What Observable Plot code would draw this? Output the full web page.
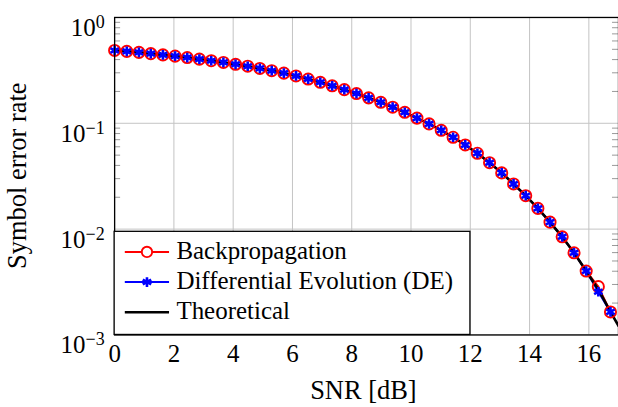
<!DOCTYPE html>
<html><head><meta charset="utf-8">
<script src="https://cdn.jsdelivr.net/npm/d3@7"></script>
<script src="https://cdn.jsdelivr.net/npm/@observablehq/plot@0.6"></script>
<style>
html,body{margin:0;padding:0;background:#fff;overflow:hidden;width:618px;height:407px}
#wrap{position:relative;width:618px;height:407px;overflow:hidden}
</style></head><body><div id="wrap"></div>
<script>
const snr = [0, 0.41, 0.82, 1.22, 1.63, 2.04, 2.45, 2.86, 3.26, 3.67, 4.08, 4.49, 4.9, 5.3, 5.71, 6.12, 6.53, 6.94, 7.34, 7.75, 8.16, 8.57, 8.98, 9.38, 9.79, 10.2, 10.61, 11.02, 11.42, 11.83, 12.24, 12.65, 13.06, 13.46, 13.87, 14.28, 14.69, 15.1, 15.5, 15.91, 16.32, 16.73];
const serBP = [0.488, 0.478, 0.468, 0.455, 0.443, 0.431, 0.418, 0.404, 0.390, 0.376, 0.361, 0.346, 0.330, 0.314, 0.298, 0.280, 0.262, 0.244, 0.226, 0.208, 0.191, 0.174, 0.158, 0.142, 0.127, 0.112, 0.0987, 0.0859, 0.0738, 0.0624, 0.0521, 0.0424, 0.0340, 0.0267, 0.0207, 0.0157, 0.01164, 0.00846, 0.00598, 0.00402, 0.00286, 0.00165];
const serDE = [0.488, 0.478, 0.468, 0.455, 0.443, 0.431, 0.418, 0.404, 0.390, 0.376, 0.361, 0.346, 0.330, 0.314, 0.298, 0.280, 0.262, 0.244, 0.226, 0.208, 0.191, 0.174, 0.158, 0.142, 0.127, 0.112, 0.0987, 0.0859, 0.0738, 0.0624, 0.0521, 0.0424, 0.0340, 0.0267, 0.0207, 0.0157, 0.01164, 0.00846, 0.00598, 0.00402, 0.00256, 0.00165];
const snrTheory = [0, 0.41, 0.82, 1.22, 1.63, 2.04, 2.45, 2.86, 3.26, 3.67, 4.08, 4.49, 4.9, 5.3, 5.71, 6.12, 6.53, 6.94, 7.34, 7.75, 8.16, 8.57, 8.98, 9.38, 9.79, 10.2, 10.61, 11.02, 11.42, 11.83, 12.24, 12.65, 13.06, 13.46, 13.87, 14.28, 14.69, 15.1, 15.5, 15.91, 16.32, 16.73, 17];
const serTheory = [0.488, 0.478, 0.468, 0.455, 0.443, 0.431, 0.418, 0.404, 0.390, 0.376, 0.361, 0.346, 0.330, 0.314, 0.298, 0.280, 0.262, 0.244, 0.226, 0.208, 0.191, 0.174, 0.158, 0.142, 0.127, 0.112, 0.0987, 0.0859, 0.0738, 0.0624, 0.0521, 0.0424, 0.0340, 0.0267, 0.0207, 0.0157, 0.01164, 0.00846, 0.00598, 0.00402, 0.00269, 0.00165, 0.00122];
const seriesNames = ["Backpropagation", "Differential Evolution (DE)", "Theoretical"];
const xTicks = [0, 2, 4, 6, 8, 10, 12, 14, 16];
const yTicks = [1, 0.1, 0.01, 0.001];
const yTickExp = ["0", "\u22121", "\u22122", "\u22123"];
const yMinor = [0.002,0.003,0.004,0.005,0.006,0.007,0.008,0.009,0.02,0.03,0.04,0.05,0.06,0.07,0.08,0.09,0.2,0.3,0.4,0.5,0.6,0.7,0.8,0.9];
const xLabel = "SNR [dB]";
const yLabel = "Symbol error rate";

const bp = snr.map((x, i) => ({x, y: serBP[i]}));
const de = snr.map((x, i) => ({x, y: serDE[i]}));
const th = snrTheory.map((x, i) => ({x, y: serTheory[i]}));

const W = 619, H = 407, ML = 114.3, MR = 0, MT = 17, MB = 72;
const FONT = "'Liberation Serif', 'Times New Roman', serif";
const plotW = W - ML - MR;

const chart = Plot.plot({
  width: W, height: H,
  marginLeft: ML, marginRight: MR, marginTop: MT, marginBottom: MB,
  style: {fontFamily: FONT, fontSize: "25px", color: "black", background: "white", overflow: "visible"},
  x: {domain: [0, 17]},
  y: {type: "log", domain: [1e-3, 1]},
  marks: [
    Plot.gridX(xTicks, {stroke: "#c4c4c4", strokeOpacity: 1, strokeWidth: 1}),
    Plot.gridY(yTicks, {stroke: "#c4c4c4", strokeOpacity: 1, strokeWidth: 1}),
    Plot.tickY(yMinor, {y: d => d, insetRight: plotW - 6, stroke: "#9a9a9a", strokeWidth: 1}),
    Plot.tickY(yMinor, {y: d => d, insetLeft: plotW - 6, stroke: "#9a9a9a", strokeWidth: 1}),
    Plot.line(bp, {x: "x", y: "y", stroke: "#ff0000", strokeWidth: 2}),
    Plot.line(de, {x: "x", y: "y", stroke: "#0000ff", strokeWidth: 2}),
    Plot.line(th, {x: "x", y: "y", stroke: "black", strokeWidth: 2.6}),
    Plot.dot(bp, {x: "x", y: "y", r: 5.6, stroke: "#ff0000", strokeWidth: 1.9, fill: "none"}),
    Plot.dot(de, {x: "x", y: "y", symbol: "asterisk", r: 4.6, stroke: "#0000ff", strokeWidth: 2.6}),
    Plot.frame({stroke: "black", strokeWidth: 1.3}),
    Plot.axisX(xTicks, {tickSize: 0, tickPadding: 9, label: null, fontSize: 25}),
    Plot.axisY(yTicks, {tickSize: 0, tickPadding: 10, label: null, fontSize: 25,
      tickFormat: d => "10^" + yTickExp[yTicks.indexOf(d)]})
  ]
});

document.getElementById("wrap").appendChild(chart);
const svg = d3.select(chart);

// superscript exponents on y tick labels
svg.selectAll('g[aria-label="y-axis tick label"] text').each(function() {
  const t = d3.select(this);
  const parts = this.textContent.split("^");
  t.text(null).attr("dy", "0.42em");
  t.append("tspan").text(parts[0]);
  t.append("tspan").attr("dy", "-0.45em").attr("font-size", "0.72em").text(parts[1]);
});

// axis labels
svg.append("text").attr("x", 364).attr("y", 400).attr("text-anchor", "middle")
  .attr("font-family", FONT).attr("font-size", 26.5).attr("fill", "black").text(xLabel);
svg.append("text").attr("transform", "translate(26,176) rotate(-90)").attr("text-anchor", "middle")
  .attr("font-family", FONT).attr("font-size", 26.5).attr("fill", "black").text(yLabel);

// legend inside plot area
const lg = svg.append("g").attr("font-family", FONT).attr("font-size", 25).attr("text-anchor", "start");
const lx0 = 114.3, ly0 = 231.7, lx1 = 470.7, ly1 = 335;
lg.append("rect").attr("x", lx0).attr("y", ly0).attr("width", lx1 - lx0).attr("height", ly1 - ly0)
  .attr("fill", "white").attr("stroke", "black").attr("stroke-width", 1.3);
const rowY = [252.3, 282.5, 312.7];
const colors = ["#ff0000", "#0000ff", "black"];
seriesNames.forEach((name, i) => {
  const y = rowY[i];
  lg.append("line").attr("x1", 125).attr("x2", 169.3).attr("y1", y).attr("y2", y)
    .attr("stroke", colors[i]).attr("stroke-width", i === 2 ? 2.6 : 2);
  if (i === 0) lg.append("circle").attr("cx", 147.2).attr("cy", y).attr("r", 5.2)
    .attr("fill", "white").attr("stroke", colors[i]).attr("stroke-width", 1.9);
  if (i === 1) lg.append("path").attr("transform", `translate(147.2,${y})`)
    .attr("d", d3.symbol(d3.symbolAsterisk, Math.PI * 4.6 * 4.6)())
    .attr("stroke", colors[i]).attr("stroke-width", 2.6).attr("fill", "none");
  lg.append("text").attr("x", 176.7).attr("y", y + 7).attr("fill", "black").text(name);
});
</script></body></html>
